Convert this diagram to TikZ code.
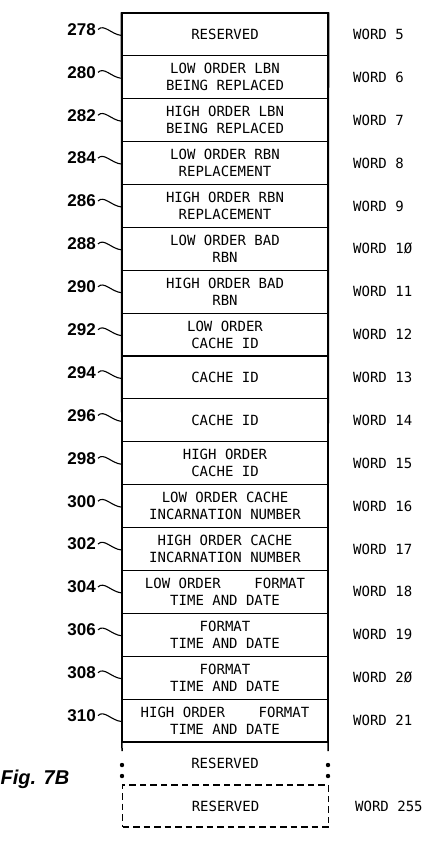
\documentclass[tikz,border=0pt]{standalone}
\usepackage{fontspec}
\usetikzlibrary{calc}
\newfontfamily\monof{DejaVu Sans Mono}
\newfontfamily\numf{Liberation Sans}
\begin{document}
\begin{tikzpicture}[x=1pt,y=-1pt,
  rowbox/.style={draw, line width=1.1pt, minimum width=206pt, minimum height=42.88pt,
    inner sep=0pt, align=center, font=\monof\fontsize{14}{17}\selectfont},
  reflabel/.style={anchor=east, inner xsep=2pt, inner ysep=0pt,
    font=\numf\bfseries\fontsize{17}{17}\selectfont},
  wordlabel/.style={anchor=west, inner sep=0pt, font=\monof\fontsize{14}{17}\selectfont},
  leader/.style={line width=1.1pt},
  dotmark/.style={fill=black, circle, inner sep=0pt, minimum size=4.4pt}]
\useasboundingbox (0,0) rectangle (421,842);
\foreach \n/\t/\w [count=\i from 0] in {
  278/{RESERVED}/5,
  280/{LOW ORDER LBN\\BEING REPLACED}/6,
  282/{HIGH ORDER LBN\\BEING REPLACED}/7,
  284/{LOW ORDER RBN\\REPLACEMENT}/8,
  286/{HIGH ORDER RBN\\REPLACEMENT}/9,
  288/{LOW ORDER BAD\\RBN}/1Ø,
  290/{HIGH ORDER BAD\\RBN}/11,
  292/{LOW ORDER\\CACHE ID}/12,
  294/{CACHE ID}/13,
  296/{CACHE ID}/14,
  298/{HIGH ORDER\\CACHE ID}/15,
  300/{LOW ORDER CACHE\\INCARNATION NUMBER}/16,
  302/{HIGH ORDER CACHE\\INCARNATION NUMBER}/17,
  304/{LOW ORDER\ \ \ \ FORMAT\\TIME AND DATE}/18,
  306/{FORMAT\\TIME AND DATE}/19,
  308/{FORMAT\\TIME AND DATE}/2Ø,
  310/{HIGH ORDER\ \ \ \ FORMAT\\TIME AND DATE}/21} {
  \pgfmathsetmacro\rtop{13+\i*42.88}
  \node[rowbox] (r\n) at (225,\rtop+21.44) {\t};
  \node[wordlabel] (w\n) at (353,\rtop+21.44) {WORD \w};
  \node[reflabel] (l\n) at (98,\rtop+16.5) {\n};
  \coordinate (c\n) at ($(r\n.north west)+(0,23)$);
  \draw[leader] (l\n.east) .. controls +(6,-6) and +(-10,-1) .. (c\n);
}
% outer verticals reinforcing the stack
\draw[line width=1.5pt] (r278.north west) -- (122,751);
\draw[line width=1.5pt] (r278.north east) -- (328,751);
% open reserved section
\node[inner sep=0pt, font=\monof\fontsize{14}{17}\selectfont] (res1) at (225,763) {RESERVED};
\node[dotmark] (d1) at (122,765) {};
\node[dotmark] (d2) at (122,776) {};
\node[dotmark] (d3) at (328,765) {};
\node[dotmark] (d4) at (328,776) {};
% dashed final word
\node[draw, dashed, dash pattern=on 6.5pt off 4pt, line width=1.2pt, minimum width=206pt,
  minimum height=42pt, inner sep=0pt, font=\monof\fontsize{14}{17}\selectfont] (res2) at (225.5,806) {RESERVED};
\node[wordlabel] (w255) at (355,806) {WORD 255};
% figure caption
\node[anchor=base west, inner sep=0pt, font=\numf\bfseries\itshape\fontsize{20}{20}\selectfont] (fig) at (0.5,784) {Fig. 7B};
\end{tikzpicture}
\end{document}
